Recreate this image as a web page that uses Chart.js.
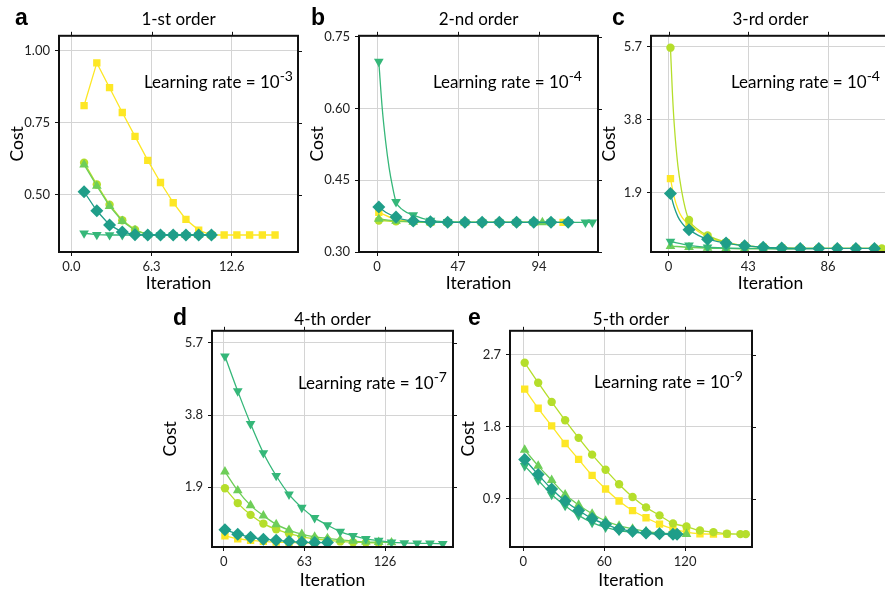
<!DOCTYPE html>
<html><head><meta charset="utf-8">
<script src="https://cdn.jsdelivr.net/npm/chart.js@4/dist/chart.umd.min.js"></script>
<style>
html,body{margin:0;padding:0;background:#fff;width:885px;height:593px;overflow:hidden;position:relative;font-family:Lato,"Open Sans",sans-serif;color:#000;}
.panel{position:absolute;}
.panel canvas{display:block;}
.lbl{position:absolute;font-family:"Liberation Sans",Arial,sans-serif;font-weight:bold;font-size:23px;line-height:1;}
.ttl{position:absolute;font-size:17px;line-height:1;text-align:center;white-space:nowrap;}
.lr{position:absolute;font-size:17px;line-height:1;text-align:right;white-space:nowrap;}
.lr sup{font-size:14px;vertical-align:7px;line-height:0;}
</style>
</head><body>
<script>
// ---------------- DATA ----------------
const seriesKeys = ['diamond','triDown','triUp','circle','square'];

// Panel a: 1-st order (marked points)
const aX_diamond = [1,2,3,4,5,6,7,8,9,10,11];
const aY_diamond = [0.511,0.445,0.396,0.371,0.362,0.361,0.361,0.361,0.361,0.361,0.361];
const aX_triDown = [1,2,3,4,5,6,7,8,9,10,11];
const aY_triDown = [0.367,0.362,0.361,0.361,0.361,0.361,0.361,0.361,0.361,0.361,0.361];
const aX_triUp = [1,2,3,4,5,6,7,8,9,10,11];
const aY_triUp = [0.605,0.531,0.461,0.409,0.377,0.362,0.361,0.361,0.361,0.361,0.361];
const aX_circle = [1,2,3,4,5,6,7,8,9,10,11];
const aY_circle = [0.612,0.536,0.466,0.412,0.379,0.362,0.361,0.361,0.361,0.361,0.361];
const aX_square = [1,2,3,4,5,6,7,8,9,10,11,12,13,14,15,16];
const aY_square = [0.810,0.958,0.872,0.786,0.703,0.620,0.543,0.473,0.415,0.378,0.361,0.361,0.361,0.361,0.361,0.361];
const aXTicks = [0, 6.3, 12.6];
const aXTickLabels = ['0.0','6.3','12.6'];
const aYTicks = [0.50, 0.75, 1.00];
const aYTickLabels = ['0.50','0.75','1.00'];

// Panel b: 2-nd order (marked points)
const bX_diamond = [1,11,21,31,41,51,61,71,81,91,101,111];
const bY_diamond = [0.394,0.373,0.365,0.363,0.362,0.362,0.362,0.362,0.362,0.362,0.362,0.362];
const bX_triDown = [1,11,21,31,41,51,61,71,81,91,101,111,121,125];
const bY_triDown = [0.698,0.405,0.377,0.366,0.363,0.362,0.362,0.362,0.362,0.362,0.362,0.362,0.362,0.362];
const bX_triUp = [1,11,21,31,41,51,61,71,81,91,96];
const bY_triUp = [0.369,0.365,0.363,0.362,0.362,0.362,0.362,0.362,0.362,0.362,0.362];
const bX_circle = [1,11,21,31,41,51,61,71,81,91,101];
const bY_circle = [0.366,0.364,0.363,0.362,0.362,0.362,0.362,0.362,0.362,0.362,0.362];
const bX_square = [1,11,21,31,41,51,61,71,81,91,101,108];
const bY_square = [0.383,0.368,0.364,0.362,0.362,0.362,0.362,0.362,0.362,0.362,0.362,0.362];
// Panel b: unmarked line points
const bXc_triDown = [3,5,7,9,15];
const bYc_triDown = [0.600,0.530,0.476,0.436,0.388];
const bXc_diamond = [5,15];
const bYc_diamond = [0.383,0.368];
const bXTicks = [0, 47, 94];
const bXTickLabels = ['0','47','94'];
const bYTicks = [0.30, 0.45, 0.60, 0.75];
const bYTickLabels = ['0.30','0.45','0.60','0.75'];

// Panel c: 3-rd order (marked points)
const cX_diamond = [1,11,21,31,41,51,61,71,81,91,101,111];
const cY_diamond = [1.87,0.93,0.68,0.58,0.51,0.47,0.45,0.44,0.44,0.44,0.44,0.44];
const cX_triDown = [1,11,21,31,41,51,61,71,81];
const cY_triDown = [0.62,0.52,0.47,0.45,0.44,0.44,0.43,0.43,0.43];
const cX_triUp = [1,11,21,31,41,51,61,71];
const cY_triUp = [0.50,0.47,0.45,0.44,0.43,0.43,0.43,0.43];
const cX_circle = [1,11,21,31,41,51,61,71,81,91,101,111,115];
const cY_circle = [5.68,1.18,0.78,0.60,0.51,0.47,0.45,0.44,0.44,0.44,0.44,0.44,0.44];
const cX_square = [1,11,21,31,41,51,61,71,81,91,101,111];
const cY_square = [2.26,1.08,0.74,0.59,0.51,0.47,0.45,0.44,0.44,0.44,0.44,0.44];
// Panel c: unmarked line points
const cXc_circle = [2,3,5,7,9,16];
const cYc_circle = [4.55,3.70,2.60,1.95,1.48,0.93];
const cXc_square = [3,5,7,9,16];
const cYc_square = [1.78,1.47,1.27,1.15,0.88];
const cXc_diamond = [3,5,7,9,16];
const cYc_diamond = [1.52,1.27,1.11,1.00,0.78];
const cXTicks = [0, 43, 86];
const cXTickLabels = ['0','43','86'];
const cYTicks = [1.9, 3.8, 5.7];
const cYTickLabels = ['1.9','3.8','5.7'];

// Panel d: 4-th order
const dX_diamond = [1,11,21,31,41,51,61,71,81];
const dY_diamond = [0.78,0.66,0.58,0.53,0.50,0.47,0.45,0.44,0.44];
const dX_triDown = [1,11,21,31,41,51,61,71,81,91,101,111,121,131,141,151,161,171];
const dY_triDown = [5.35,4.43,3.57,2.80,2.20,1.71,1.36,1.09,0.90,0.73,0.62,0.54,0.49,0.45,0.43,0.42,0.42,0.41];
const dX_triUp = [1,11,21,31,41,51,61,71,81,91,101,111,121,131];
const dY_triUp = [2.31,1.81,1.42,1.15,0.92,0.77,0.66,0.59,0.55,0.51,0.48,0.46,0.45,0.44];
const dX_circle = [1,11,21,31,41,51,61,71,81,91,101,111,121];
const dY_circle = [1.87,1.48,1.17,0.94,0.79,0.68,0.59,0.54,0.50,0.47,0.45,0.44,0.43];
const dX_square = [1,11,21,31,41,51,61,71];
const dY_square = [0.62,0.54,0.50,0.47,0.45,0.44,0.43,0.43];
const dXTicks = [0, 63, 126];
const dXTickLabels = ['0','63','126'];
const dYTicks = [1.9, 3.8, 5.7];
const dYTickLabels = ['1.9','3.8','5.7'];

// Panel e: 5-th order
const eX_diamond = [1,11,21,31,41,51,61,71,81,91,101,111,114];
const eY_diamond = [1.39,1.20,1.02,0.87,0.75,0.65,0.58,0.52,0.49,0.47,0.46,0.455,0.455];
const eX_triDown = [1,11,21,31,41,51,61,71,81,91,101,111];
const eY_triDown = [1.31,1.13,0.95,0.81,0.69,0.60,0.54,0.50,0.48,0.465,0.455,0.455];
const eX_triUp = [1,11,21,31,41,51,61,71,81,91,101,111,121];
const eY_triUp = [1.51,1.31,1.13,0.95,0.82,0.71,0.62,0.56,0.52,0.49,0.47,0.46,0.455];
const eX_circle = [1,11,21,31,41,51,61,71,81,91,101,111,121,131,141,151,161,165];
const eY_circle = [2.60,2.35,2.11,1.88,1.66,1.45,1.26,1.08,0.92,0.79,0.69,0.59,0.55,0.50,0.48,0.46,0.455,0.455];
const eX_square = [1,11,21,31,41,51,61,71,81,91,101,111,121,131,141,151];
const eY_square = [2.27,2.03,1.81,1.59,1.39,1.19,1.02,0.87,0.75,0.66,0.58,0.52,0.48,0.46,0.455,0.455];
const eXTicks = [0, 60, 120];
const eXTickLabels = ['0','60','120'];
const eYTicks = [0.9, 1.8, 2.7];
const eYTickLabels = ['0.9','1.8','2.7'];

const panelLetters = ['a','b','c','d','e'];
const panelTitles = ['1-st order','2-nd order','3-rd order','4-th order','5-th order'];
const lrExponents = ['-3','-4','-4','-7','-9'];

// ---------------- STYLE / LAYOUT ----------------
const COL = {diamond:'#1f9e89', triDown:'#35b779', triUp:'#6ece58', circle:'#b5de2b', square:'#fde725'};
const PSTYLE = {diamond:'rectRot', triDown:'triangle', triUp:'triangle', circle:'circle', square:'rect'};
const PRAD = {diamond:6.5, triDown:5.6, triUp:5.6, circle:4.2, square:5.2};

const Y_W = 60, PAD_T = 10, PAD_R = 12, X_H = 48;
const panels = [
  {key:'a', plot:[59,33,298,252], xr:[-0.97,17.8], yr:[0.302,1.052], smooth:false,
   lbl:[15,25], lr:[293,88], xtPad:6},
  {key:'b', plot:[359,33,598,252], xr:[-10.5,128.3], yr:[0.30,0.752], smooth:true,
   lbl:[311,25], lr:[582,88], xtPad:6},
  {key:'c', plot:[651,33,890,252], xr:[-9.5,119.4], yr:[0.346,5.99], smooth:true,
   lbl:[612,25], lr:[880,88], xtPad:6},
  {key:'d', plot:[212,328,453,547], xr:[-9.1,179], yr:[0.323,6.02], smooth:true,
   lbl:[173,325], lr:[447,389], xtPad:4},
  {key:'e', plot:[510,328,752,547], xr:[-9.9,169.6], yr:[0.294,3.0], smooth:true,
   lbl:[468,325], lr:[743,388], xtPad:4}
];
const DATA = {
  a:{x:{diamond:aX_diamond,triDown:aX_triDown,triUp:aX_triUp,circle:aX_circle,square:aX_square},
     y:{diamond:aY_diamond,triDown:aY_triDown,triUp:aY_triUp,circle:aY_circle,square:aY_square},
     cx:{}, cy:{},
     xt:aXTicks, xl:aXTickLabels, yt:aYTicks, yl:aYTickLabels},
  b:{x:{diamond:bX_diamond,triDown:bX_triDown,triUp:bX_triUp,circle:bX_circle,square:bX_square},
     y:{diamond:bY_diamond,triDown:bY_triDown,triUp:bY_triUp,circle:bY_circle,square:bY_square},
     cx:{triDown:bXc_triDown, diamond:bXc_diamond}, cy:{triDown:bYc_triDown, diamond:bYc_diamond},
     xt:bXTicks, xl:bXTickLabels, yt:bYTicks, yl:bYTickLabels},
  c:{x:{diamond:cX_diamond,triDown:cX_triDown,triUp:cX_triUp,circle:cX_circle,square:cX_square},
     y:{diamond:cY_diamond,triDown:cY_triDown,triUp:cY_triUp,circle:cY_circle,square:cY_square},
     cx:{circle:cXc_circle, square:cXc_square, diamond:cXc_diamond},
     cy:{circle:cYc_circle, square:cYc_square, diamond:cYc_diamond},
     xt:cXTicks, xl:cXTickLabels, yt:cYTicks, yl:cYTickLabels},
  d:{x:{diamond:dX_diamond,triDown:dX_triDown,triUp:dX_triUp,circle:dX_circle,square:dX_square},
     y:{diamond:dY_diamond,triDown:dY_triDown,triUp:dY_triUp,circle:dY_circle,square:dY_square},
     cx:{}, cy:{},
     xt:dXTicks, xl:dXTickLabels, yt:dYTicks, yl:dYTickLabels},
  e:{x:{diamond:eX_diamond,triDown:eX_triDown,triUp:eX_triUp,circle:eX_circle,square:eX_square},
     y:{diamond:eY_diamond,triDown:eY_triDown,triUp:eY_triUp,circle:eY_circle,square:eY_square},
     cx:{}, cy:{},
     xt:eXTicks, xl:eXTickLabels, yt:eYTicks, yl:eYTickLabels}
};

const framePlugin = {
  id:'frame',
  afterDraw(chart){
    const {ctx, chartArea:a, scales} = chart;
    ctx.save();
    ctx.strokeStyle = '#111';
    ctx.lineWidth = 1;
    ctx.beginPath();
    scales.y.ticks.forEach(t => {
      const y = Math.round(scales.y.getPixelForValue(t.value)) + 0.5;
      ctx.moveTo(a.right, y); ctx.lineTo(a.right + 4, y);
    });
    scales.x.ticks.forEach(t => {
      const x = Math.round(scales.x.getPixelForValue(t.value)) + 0.5;
      ctx.moveTo(x, a.top); ctx.lineTo(x, a.top - 4);
    });
    ctx.stroke();
    ctx.lineWidth = 2;
    ctx.strokeRect(a.left, a.top, a.right - a.left, a.bottom - a.top);
    ctx.restore();
  }
};

function el(cls, txtHtml, style){
  const d = document.createElement('div');
  d.className = cls; d.innerHTML = txtHtml;
  Object.assign(d.style, style);
  document.body.appendChild(d);
  return d;
}

panels.forEach((p, idx) => {
  const [L,T,R,B] = p.plot;
  const W = Y_W + (R - L) + PAD_R;
  const H = PAD_T + (B - T) + X_H;
  const box = document.createElement('div');
  box.className = 'panel';
  Object.assign(box.style, {left:(L - Y_W)+'px', top:(T - PAD_T)+'px', width:W+'px', height:H+'px'});
  const cv = document.createElement('canvas');
  box.appendChild(cv);
  document.body.appendChild(box);

  const D = DATA[p.key];
  const datasets = seriesKeys.map(k => {
    const pts = D.x[k].map((x,i) => ({x:x, y:D.y[k][i], m:true}));
    if (D.cx[k]) D.cx[k].forEach((x,i) => pts.push({x:x, y:D.cy[k][i], m:false}));
    pts.sort((u,v) => u.x - v.x);
    return {
      label:k,
      data: pts,
      borderColor: COL[k],
      backgroundColor: COL[k],
      pointBackgroundColor: COL[k],
      pointBorderColor: COL[k],
      pointBorderWidth: 0,
      pointStyle: PSTYLE[k],
      pointRotation: k === 'triDown' ? 180 : 0,
      pointRadius: c => (c.raw && c.raw.m) ? PRAD[k] : 0,
      borderWidth: 1.3,
      cubicInterpolationMode: p.smooth ? 'monotone' : 'default',
      tension: 0
    };
  });

  new Chart(cv, {
    type:'line',
    data:{datasets},
    options:{
      responsive:true, maintainAspectRatio:false, animation:false,
      layout:{padding:{top:PAD_T, right:PAD_R, left:0, bottom:0}},
      plugins:{legend:{display:false}, tooltip:{enabled:false}, title:{display:false}},
      scales:{
        x:{type:'linear', min:p.xr[0], max:p.xr[1],
           afterBuildTicks: s => { s.ticks = D.xt.map(v => ({value:v})); },
           afterFit: s => { s.height = X_H; },
           ticks:{callback:(v,i) => D.xl[i], font:{family:'Lato', size:13}, color:'#222', padding:3, maxRotation:0, autoSkip:false},
           grid:{color:'#d4d4d4', lineWidth:1, tickColor:'#111', tickLength:4},
           border:{color:'#111', width:2},
           title:{display:true, text:'Iteration', font:{family:'Lato', size:17.5}, color:'#000', padding:{top:0, bottom:p.xtPad}}
        },
        y:{type:'linear', min:p.yr[0], max:p.yr[1],
           afterBuildTicks: s => { s.ticks = D.yt.map(v => ({value:v})); },
           afterFit: s => { s.width = Y_W; },
           ticks:{callback:(v,i) => D.yl[i], font:{family:'Lato', size:13}, color:'#222', padding:5, autoSkip:false},
           grid:{color:'#d4d4d4', lineWidth:1, tickColor:'#111', tickLength:4},
           border:{color:'#111', width:2},
           title:{display:true, text:'Cost', font:{family:'Lato', size:17.5}, color:'#000', padding:{top:8, bottom:0}}
        }
      }
    },
    plugins:[framePlugin]
  });

  el('lbl', panelLetters[idx], {left:p.lbl[0]+'px', top:(p.lbl[1] - 19.5)+'px'});
  el('ttl', panelTitles[idx], {left:L+'px', width:(R-L)+'px', top:(p.lbl[1] - 15)+'px'});
  el('lr', 'Learning rate = 10<sup>' + lrExponents[idx] + '</sup>',
     {right:(885 - p.lr[0])+'px', top:(p.lr[1] - 15)+'px'});
});
</script>
</body></html>
